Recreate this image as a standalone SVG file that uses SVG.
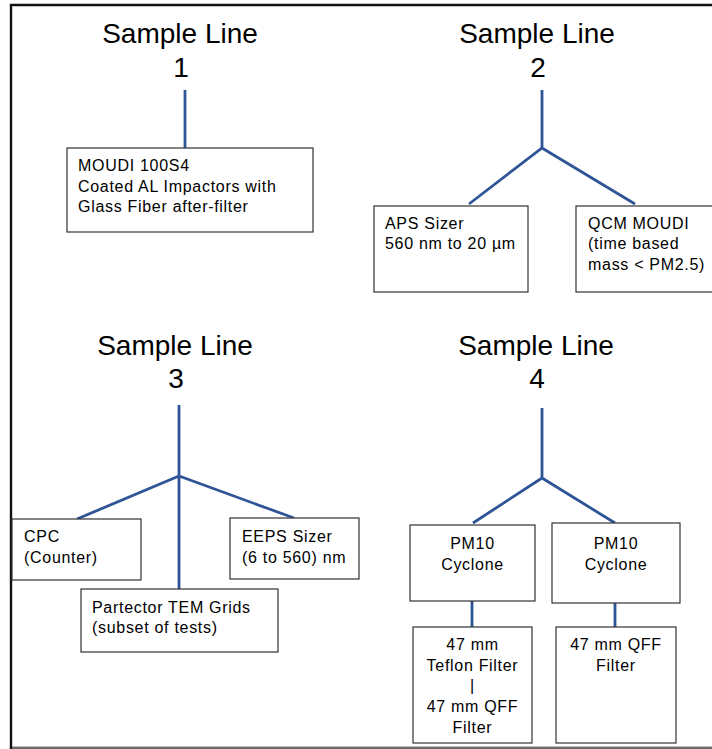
<svg xmlns="http://www.w3.org/2000/svg" width="712" height="749" viewBox="0 0 712 749">
<style>
.t{font-family:"Liberation Sans",Arial,sans-serif;font-size:28px;fill:#000;text-anchor:middle}
.b{font-family:"Liberation Sans",Arial,sans-serif;font-size:16px;fill:#000;letter-spacing:0.7px}
.c{text-anchor:middle}
.box{fill:#fff;stroke:#333;stroke-width:1.2}
.ln{stroke:#2F5597;stroke-width:2.8;fill:none}
</style>
<rect x="0" y="0" width="712" height="749" fill="#fff"/>
<path d="M716 5 H11 V748 H716" fill="none" stroke="#111" stroke-width="2.4"/>
<line x1="12" y1="748" x2="712" y2="748" stroke="#888" stroke-width="1.5"/>
<g id="connectors">
<path class="ln" d="M185 90 V148"/>
<path class="ln" d="M542 90 V148 M469 204 L542 148 L635 204"/>
<path class="ln" d="M179 405 V590 M77 519 L179 476 L294 518"/>
<path class="ln" d="M542 408 V478 M473 523 L542 478 L615 523"/>
<path class="ln" d="M472 601 V627 M615 603 V627"/>
</g>
<g id="title1"><text class="t" x="180" y="43">Sample Line</text><text class="t" x="181" y="77">1</text></g>
<g id="title2"><text class="t" x="537" y="43">Sample Line</text><text class="t" x="538" y="77">2</text></g>
<g id="title3"><text class="t" x="175" y="355">Sample Line</text><text class="t" x="176" y="388">3</text></g>
<g id="title4"><text class="t" x="536" y="355">Sample Line</text><text class="t" x="537" y="388">4</text></g>
<g id="moudi"><rect class="box" x="67" y="148" width="246" height="84"/>
<text class="b" x="78" y="171">MOUDI 100S4</text><text class="b" x="78" y="192">Coated AL Impactors with</text><text class="b" x="78" y="212">Glass Fiber after-filter</text></g>
<g id="aps"><rect class="box" x="374" y="206" width="154" height="86"/>
<text class="b" x="385" y="229">APS Sizer</text><text class="b" x="385" y="249">560 nm to 20 µm</text></g>
<g id="qcm"><rect class="box" x="576" y="206" width="140" height="86"/>
<text class="b" x="588" y="229">QCM MOUDI</text><text class="b" x="588" y="249">(time based</text><text class="b" x="588" y="270">mass &lt; PM2.5)</text></g>
<g id="cpc"><rect class="box" x="12" y="519" width="129" height="61"/>
<text class="b" x="24" y="542">CPC</text><text class="b" x="24" y="563">(Counter)</text></g>
<g id="eeps"><rect class="box" x="230" y="518" width="129" height="61"/>
<text class="b" x="242" y="542">EEPS Sizer</text><text class="b" x="242" y="563">(6 to 560) nm</text></g>
<g id="partector"><rect class="box" x="81" y="589" width="197" height="63"/>
<text class="b" x="92" y="613">Partector TEM Grids</text><text class="b" x="92" y="633">(subset of tests)</text></g>
<g id="pm10a"><rect class="box" x="410" y="525" width="125" height="76"/>
<text class="b c" x="472.5" y="549">PM10</text><text class="b c" x="472.5" y="570">Cyclone</text></g>
<g id="pm10b"><rect class="box" x="552" y="523" width="128" height="80"/>
<text class="b c" x="616" y="549">PM10</text><text class="b c" x="616" y="570">Cyclone</text></g>
<g id="filterA"><rect class="box" x="413" y="627" width="119" height="116"/>
<text class="b c" x="472.5" y="650">47 mm</text><text class="b c" x="472.5" y="671">Teflon Filter</text><text class="b c" x="472.5" y="691">|</text><text class="b c" x="472.5" y="712">47 mm QFF</text><text class="b c" x="472.5" y="733">Filter</text></g>
<g id="filterB"><rect class="box" x="556" y="627" width="120" height="116"/>
<text class="b c" x="616" y="650">47 mm QFF</text><text class="b c" x="616" y="671">Filter</text></g>
</svg>
